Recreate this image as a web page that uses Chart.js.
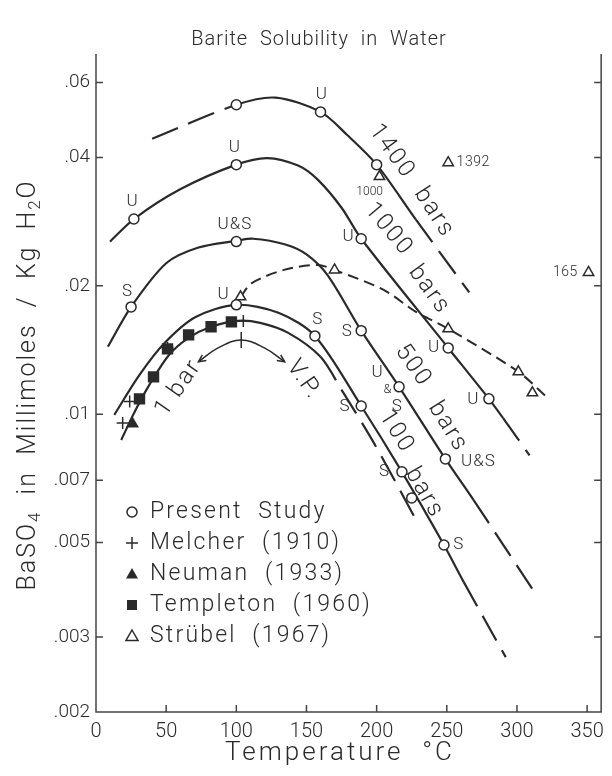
<!DOCTYPE html>
<html>
<head>
<meta charset="utf-8">
<script src="https://cdn.jsdelivr.net/npm/chart.js@4/dist/chart.umd.min.js"></script>
<style>
  html, body { margin: 0; padding: 0; background: #fff; }
  #wrap { width: 612px; height: 776px; }
</style>
</head>
<body>
<div id="wrap"><canvas id="c" width="612" height="776"></canvas></div>
<script>
// isobars: temperature (C) and BaSO4 solubility (mmol / kg H2O)
const t1400 = [40, 100, 128, 160, 179, 200, 228, 266]
const v1400 = [0.0443, 0.0532, 0.0553, 0.0512, 0.0452, 0.0385, 0.0286, 0.0193]
const t1000 = [10, 27, 60, 100, 122, 144, 158, 175, 189, 251, 280, 290, 309]
const v1000 = [0.0254, 0.0287, 0.0337, 0.0385, 0.0399, 0.0383, 0.0355, 0.0305, 0.0258, 0.0143, 0.01086, 0.0098, 0.008]
const t500 = [8.5, 25, 50, 73, 100, 112, 135, 150, 165, 189, 216, 249, 269, 313]
const v500 = [0.0144, 0.01785, 0.0226, 0.0246, 0.0255, 0.0258, 0.025, 0.0237, 0.0212, 0.0157, 0.01159, 0.00785, 0.00629, 0.0038]
const t100 = [13, 31, 49, 71, 100, 130, 156, 189, 218, 248, 262, 292]
const v100 = [0.00996, 0.01236, 0.0147, 0.0169, 0.01805, 0.01729, 0.01526, 0.01045, 0.00732, 0.00493, 0.00404, 0.00269]
const t1bar = [18, 27.5, 38, 52, 66, 82, 101, 117, 137, 160, 175, 198, 230]
const v1bar = [0.0087, 0.01012, 0.01171, 0.01377, 0.0151, 0.01603, 0.01655, 0.01637, 0.01551, 0.01363, 0.0114, 0.00856, 0.0055]
// Strubel 1967 dashed trend
const tStrubelLine = [103, 111, 134, 158, 170, 205, 228, 251, 301, 321]
const vStrubelLine = [0.01885, 0.0203, 0.0218, 0.0224, 0.0218, 0.01957, 0.01738, 0.01586, 0.01257, 0.01098]
// "1 bar <-> V.P." arc
const tArc = [73, 87, 103.5, 120, 134.5]
const vArc = [0.01327, 0.0143, 0.01493, 0.0143, 0.01327]

// measured points
const tPresent = [100, 160, 200, 27, 100, 189, 251, 280, 25, 100, 189, 216, 249, 100, 156, 189, 218, 225, 248]
const vPresent = [0.0532, 0.0512, 0.0385, 0.0287, 0.0385, 0.0258, 0.0143, 0.01086, 0.01785, 0.0254, 0.0157, 0.01159, 0.00785, 0.01805, 0.01526, 0.01045, 0.00732, 0.00636, 0.00493]
const tMelcher = [19, 24, 51, 105]
const vMelcher = [0.00953, 0.0107, 0.0143, 0.01655]
const tNeuman = [26]
const vNeuman = [0.00949]
const tTempleton = [31, 41, 51, 66, 82, 96.5]
const vTempleton = [0.01086, 0.01223, 0.01423, 0.01535, 0.01603, 0.01646]
const tStrubel = [103, 170, 251, 301, 311, 202, 251, 351]
const vStrubel = [0.01885, 0.0218, 0.01586, 0.01257, 0.01122, 0.0361, 0.0389, 0.0215]

const xTicks = [0, 50, 100, 150, 200, 250, 300, 350]
const yTicks = [0.002, 0.003, 0.005, 0.007, 0.01, 0.02, 0.04, 0.06]

const INK = '#2a2a2a'
const FONT = 'Roboto, "DejaVu Sans", sans-serif'

const pts = (ts, vs) => ts.map((t, i) => ({ x: t, y: vs[i] }))

// dashed outside [lo, hi)
function curve(ts, vs, lo, hi) {
  const data = pts(ts, vs)
  return {
    data: data,
    showLine: true,
    borderColor: INK,
    borderWidth: 2.2,
    pointRadius: 0,
    tension: 0.3,
    order: 2,
    segment: {
      borderDash: (c) => {
        const t0 = data[c.p0DataIndex].x
        return t0 < lo || t0 >= hi ? [28, 11] : []
      },
    },
  }
}

function marks(ts, vs, style, r, fill) {
  return {
    data: pts(ts, vs),
    showLine: false,
    pointStyle: style,
    pointRadius: r,
    pointBorderWidth: 1.5,
    pointBorderColor: INK,
    pointBackgroundColor: fill,
    order: 0,
  }
}

// text near the points
const notes = [
  ['U', 161, 0.0562], ['U', 26, 0.0315], ['U', 99, 0.0422], ['S', 22.5, 0.01936],
  ['U&S', 99, 0.0278], ['U', 91, 0.01905], ['U', 180, 0.0261], ['S', 179, 0.0156],
  ['S', 158, 0.01664], ['U', 241, 0.0143], ['U', 269, 0.0108], ['U&S', 272.5, 0.00773],
  ['U', 200.7, 0.0125], ['S', 214.8, 0.0104], ['S', 177.5, 0.0104], ['S', 205.6, 0.00732],
  ['S', 258.5, 0.00493],
]
const curveLabels = [
  ['1400', 210.6, 0.0413, 54], ['bars', 240.8, 0.0297, 57],
  ['1000', 208.5, 0.0271, 50], ['bars', 237.3, 0.01957, 54],
  ['500', 226, 0.01298, 55], ['bars', 250.7, 0.00933, 58],
  ['100', 214, 0.00909, 58], ['bars', 233.8, 0.00653, 60],
  ['1 bar', 59, 0.01152, -55], ['V.P.', 148, 0.01203, 55],
]
const legendRows = [
  ['circle', 'Present  Study'], ['cross', 'Melcher  (1910)'], ['tri', 'Neuman  (1933)'],
  ['square', 'Templeton  (1960)'], ['otri', 'Str\u00fcbel  (1967)'],
]

function text(ctx, s, x, y, size, rot, align, spacing) {
  ctx.save()
  ctx.translate(x, y)
  ctx.rotate(((rot || 0) * Math.PI) / 180)
  ctx.font = '300 ' + size + 'px ' + FONT
  ctx.letterSpacing = (spacing || 0) + 'px'
  ctx.textAlign = align || 'center'
  ctx.textBaseline = 'middle'
  ctx.fillStyle = INK
  ctx.fillText(s, 0, 0)
  ctx.restore()
}

function symbol(ctx, kind, x, y) {
  ctx.save()
  ctx.strokeStyle = INK
  ctx.fillStyle = INK
  ctx.lineWidth = 1.5
  ctx.beginPath()
  if (kind === 'circle') {
    ctx.arc(x, y, 5, 0, Math.PI * 2)
    ctx.stroke()
  } else if (kind === 'cross') {
    ctx.moveTo(x - 6, y); ctx.lineTo(x + 6, y)
    ctx.moveTo(x, y - 6); ctx.lineTo(x, y + 6)
    ctx.stroke()
  } else if (kind === 'square') {
    ctx.fillRect(x - 5, y - 5, 10, 10)
  } else {
    ctx.moveTo(x, y - 6); ctx.lineTo(x + 6, y + 4.5); ctx.lineTo(x - 6, y + 4.5); ctx.closePath()
    if (kind === 'tri') ctx.fill()
    else ctx.stroke()
  }
  ctx.restore()
}

const decor = {
  id: 'decor',
  afterDraw(chart) {
    const ctx = chart.ctx
    const a = chart.chartArea
    const x = chart.scales.x
    const y = chart.scales.y
    ctx.save()
    ctx.strokeStyle = '#444'
    ctx.lineWidth = 1.5
    ctx.beginPath()
    ctx.moveTo(a.left, a.top); ctx.lineTo(a.left, a.bottom)
    ctx.lineTo(a.right, a.bottom); ctx.lineTo(a.right, a.top)
    yTicks.forEach((v) => {
      const py = y.getPixelForValue(v)
      ctx.moveTo(a.left, py); ctx.lineTo(a.left + 7, py)
      ctx.moveTo(a.right, py); ctx.lineTo(a.right - 7, py)
    })
    xTicks.forEach((t) => {
      const px = x.getPixelForValue(t)
      ctx.moveTo(px, a.bottom); ctx.lineTo(px, a.bottom - 7)
    })
    ctx.stroke()

    // arrow heads + centre tick on the V.P. arc
    const ax = tArc.map((t) => x.getPixelForValue(t))
    const ay = vArc.map((v) => y.getPixelForValue(v))
    const head = (i, j) => {
      const ang = Math.atan2(ay[i] - ay[j], ax[i] - ax[j])
      ctx.beginPath()
      ctx.moveTo(ax[i] - 8 * Math.cos(ang - 0.45), ay[i] - 8 * Math.sin(ang - 0.45))
      ctx.lineTo(ax[i], ay[i])
      ctx.lineTo(ax[i] - 8 * Math.cos(ang + 0.45), ay[i] - 8 * Math.sin(ang + 0.45))
      ctx.stroke()
    }
    ctx.strokeStyle = INK
    head(0, 1)
    head(ax.length - 1, ax.length - 2)
    ctx.beginPath()
    ctx.moveTo(ax[2], ay[2] - 8); ctx.lineTo(ax[2], ay[2] + 8)
    ctx.stroke()
    ctx.restore()

    notes.forEach((n) => text(ctx, n[0], x.getPixelForValue(n[1]), y.getPixelForValue(n[2]), 17, 0, 'center', 1))
    text(ctx, '&', x.getPixelForValue(207.7), y.getPixelForValue(0.0114), 13, 0, 'center', 0)
    text(ctx, '1000', x.getPixelForValue(195), y.getPixelForValue(0.0332), 12, 0, 'center', 0)
    text(ctx, '1392', x.getPixelForValue(257), y.getPixelForValue(0.0389), 14, 0, 'left', 0.5)
    text(ctx, '165', x.getPixelForValue(334.5), y.getPixelForValue(0.0215), 14, 0, 'center', 0.5)
    curveLabels.forEach((c) => text(ctx, c[0], x.getPixelForValue(c[1]), y.getPixelForValue(c[2]), 24, c[3], 'center', 2))

    // legend
    legendRows.forEach((r, i) => {
      const py = 512 + i * 31
      symbol(ctx, r[0], 132, py)
      text(ctx, r[1], 150, py, 23, 0, 'left', 2.2)
    })

    // titles
    text(ctx, 'Barite  Solubility  in  Water', 319, 40, 20, 0, 'center', 1)
    text(ctx, 'Temperature  \u00b0C', 340, 753, 26, 0, 'center', 3)

    // y title with subscripts
    const parts = [['BaSO', 0], ['4', 1], ['  in  Millimoles  /  Kg  H', 0], ['2', 1], ['O', 0]]
    ctx.save()
    ctx.translate(29, 385)
    ctx.rotate(-Math.PI / 2)
    ctx.fillStyle = INK
    ctx.textBaseline = 'middle'
    ctx.letterSpacing = '2px'
    let total = 0
    parts.forEach((p) => {
      ctx.font = '300 ' + (p[1] ? 17 : 25) + 'px ' + FONT
      total += ctx.measureText(p[0]).width
    })
    let cx = -total / 2
    parts.forEach((p) => {
      ctx.font = '300 ' + (p[1] ? 17 : 25) + 'px ' + FONT
      ctx.fillText(p[0], cx, p[1] ? 7 : 0)
      cx += ctx.measureText(p[0]).width
    })
    ctx.restore()
  },
}

const datasets = [
  marks(tPresent, vPresent, 'circle', 5, '#fff'),
  marks(tMelcher, vMelcher, 'cross', 6, INK),
  marks(tNeuman, vNeuman, 'triangle', 6, INK),
  marks(tTempleton, vTempleton, 'rect', 7, INK),
  marks(tStrubel, vStrubel, 'triangle', 6, '#fff'),
  curve(t1400, v1400, 100, 228),
  curve(t1000, v1000, 0, 290),
  curve(t500, v500, 0, 269),
  curve(t100, v100, 0, 262),
  curve(t1bar, v1bar, 0, 160),
  {
    data: pts(tStrubelLine, vStrubelLine),
    showLine: true,
    borderColor: INK,
    borderWidth: 2,
    borderDash: [11, 6],
    pointRadius: 0,
    tension: 0.3,
    order: 2,
  },
  {
    data: pts(tArc, vArc),
    showLine: true,
    borderColor: INK,
    borderWidth: 1.5,
    pointRadius: 0,
    tension: 0.4,
    order: 2,
  },
]

new Chart(document.getElementById('c'), {
  type: 'scatter',
  data: { datasets: datasets },
  options: {
    responsive: false,
    animation: false,
    layout: { padding: { top: 54, right: 5, left: 0, bottom: 0 } },
    plugins: { legend: { display: false }, tooltip: { enabled: false }, title: { display: false } },
    scales: {
      x: {
        type: 'linear',
        min: 0,
        max: 360,
        afterFit: (s) => { s.height = 64 },
        afterBuildTicks: (s) => { s.ticks = xTicks.map((v) => ({ value: v })) },
        grid: { display: false, drawTicks: false },
        border: { display: false },
        ticks: { color: INK, padding: 8, font: { family: FONT, size: 20, weight: '300' } },
      },
      y: {
        type: 'logarithmic',
        min: 0.002,
        max: 0.07,
        afterFit: (s) => { s.width = 96 },
        afterBuildTicks: (s) => { s.ticks = yTicks.map((v) => ({ value: v })) },
        grid: { display: false, drawTicks: false },
        border: { display: false },
        ticks: {
          color: INK,
          padding: 6,
          font: { family: FONT, size: 19, weight: '300' },
          callback: (v) => String(v).replace(/^0/, ''),
        },
      },
    },
  },
  plugins: [decor],
})
</script>
</body>
</html>
